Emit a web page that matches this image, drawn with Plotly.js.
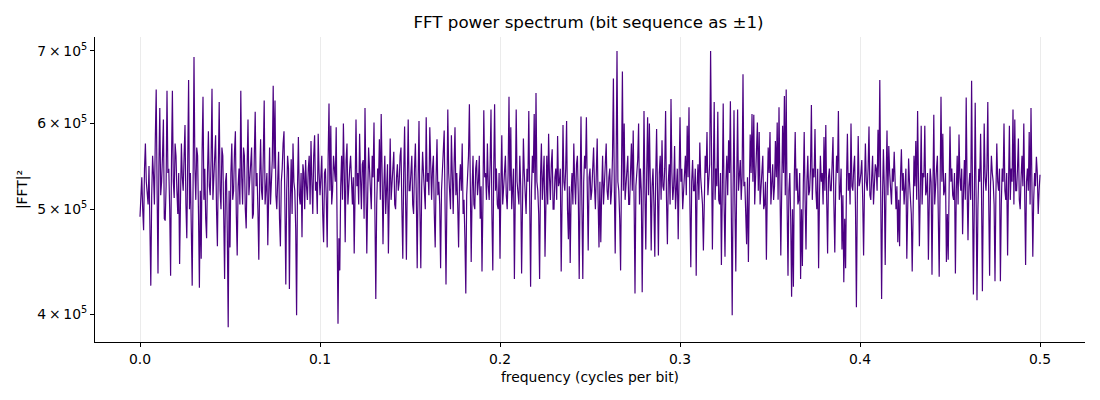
<!DOCTYPE html>
<html>
<head>
<title>FFT power spectrum</title>
<script src="https://cdn.plot.ly/plotly-3.0.1.min.js"></script>
<style>
body{margin:0;background:#fff;}
#plot{width:1100px;height:400px;}
</style>
</head>
<body>
<div id="plot"></div>
<script>
// |FFT|^2, one value per 0.0005 cycles/bit (0 .. 0.5)
var power=[
492e3,512e3,535e3,500e3,478e3,545e3,575e3,530e3,520e3,505e3,548e3,470e3,425e3,515e3,560e3,538e3,505e3,580e3,645e3,520e3,
436e3,548e3,620e3,515e3,530e3,560e3,605e3,490e3,488e3,525e3,643e3,540e3,545e3,500e3,434e3,555e3,643e3,530e3,512e3,575e3,
560e3,520e3,495e3,540e3,445e3,510e3,575e3,535e3,520e3,560e3,598e3,505e3,470e3,550e3,658e3,500e3,540e3,480e3,425e3,530e3,
691e3,545e3,510e3,570e3,560e3,495e3,423e3,520e3,450e3,565e3,635e3,510e3,545e3,490e3,470e3,540e3,590e3,525e3,515e3,555e3,
646e3,510e3,530e3,555e3,585e3,500e3,462e3,545e3,628e3,520e3,500e3,570e3,560e3,495e3,431e3,530e3,540e3,475e3,389e3,520e3,
461e3,540e3,575e3,510e3,520e3,565e3,590e3,495e3,453e3,525e3,545e3,505e3,643e3,535e3,505e3,570e3,560e3,500e3,480e3,545e3,
605e3,515e3,530e3,550e3,570e3,490e3,495e3,560e3,615e3,525e3,540e3,500e3,449e3,535e3,580e3,520e3,510e3,560e3,630e3,505e3,
520e3,540e3,463e3,525e3,570e3,505e3,535e3,555e3,650e3,545e3,630e3,515e3,500e3,540e3,565e3,490e3,462e3,530e3,545e3,575e3,
590e3,505e3,426e3,520e3,560e3,545e3,422e3,510e3,556e3,495e3,575e3,530e3,520e3,480e3,399e3,525e3,583e3,515e3,505e3,540e3,
471e3,550e3,540e3,500e3,555e3,525e3,510e3,545e3,560e3,505e3,578e3,530e3,495e3,560e3,585e3,520e3,530e3,495e3,587e3,540e3,
515e3,535e3,560e3,495e3,466e3,540e3,545e3,510e3,461e3,555e3,626e3,520e3,597e3,505e3,520e3,560e3,545e3,530e3,595e3,500e3,
392e3,470e3,439e3,525e3,560e3,510e3,600e3,540e3,466e3,555e3,575e3,505e3,530e3,545e3,560e3,515e3,505e3,535e3,455e3,520e3,
605e3,525e3,540e3,505e3,587e3,535e3,500e3,550e3,555e3,490e3,620e3,530e3,455e3,515e3,570e3,545e3,520e3,500e3,560e3,535e3,
601e3,490e3,413e3,505e3,545e3,530e3,580e3,510e3,612e3,540e3,464e3,525e3,560e3,495e3,520e3,550e3,455e3,530e3,581e3,510e3,
525e3,545e3,565e3,505e3,500e3,535e3,550e3,520e3,530e3,560e3,570e3,500e3,450e3,540e3,596e3,515e3,449e3,530e3,605e3,520e3,
520e3,540e3,560e3,505e3,495e3,545e3,575e3,515e3,441e3,530e3,603e3,500e3,441e3,525e3,565e3,540e3,520e3,500e3,608e3,530e3,
540e3,515e3,595e3,530e3,510e3,545e3,560e3,495e3,461e3,535e3,580e3,515e3,530e3,505e3,441e3,520e3,545e3,555e3,591e3,500e3,
426e3,510e3,618e3,540e3,520e3,500e3,585e3,530e3,495e3,550e3,595e3,515e3,540e3,505e3,461e3,530e3,550e3,520e3,575e3,495e3,
510e3,470e3,418e3,515e3,545e3,560e3,625e3,530e3,447e3,520e3,560e3,505e3,500e3,545e3,555e3,515e3,530e3,560e3,490e3,525e3,
438e3,505e3,617e3,535e3,540e3,510e3,575e3,525e3,510e3,550e3,618e3,495e3,439e3,540e3,625e3,520e3,545e3,505e3,500e3,540e3,
450e3,525e3,585e3,505e3,520e3,545e3,560e3,515e3,500e3,540e3,635e3,520e3,595e3,500e3,530e3,545e3,431e3,510e3,618e3,530e3,
520e3,505e3,560e3,525e3,436e3,515e3,581e3,540e3,510e3,495e3,545e3,530e3,616e3,505e3,424e3,520e3,560e3,540e3,612e3,510e3,
640e3,530e3,520e3,495e3,431e3,535e3,575e3,510e3,545e3,560e3,452e3,520e3,560e3,505e3,587e3,535e3,510e3,550e3,568e3,500e3,
500e3,535e3,545e3,510e3,584e3,525e3,530e3,545e3,438e3,510e3,598e3,530e3,520e3,545e3,603e3,500e3,469e3,525e3,446e3,515e3,
540e3,505e3,575e3,530e3,505e3,550e3,560e3,515e3,431e3,520e3,609e3,505e3,431e3,530e3,560e3,545e3,608e3,520e3,458e3,535e3,
545e3,510e3,520e3,545e3,570e3,525e3,500e3,540e3,581e3,510e3,461e3,530e3,466e3,520e3,560e3,505e3,530e3,550e3,575e3,520e3,
510e3,535e3,545e3,505e3,520e3,560e3,660e3,525e3,455e3,545e3,700e3,530e3,520e3,490e3,439e3,540e3,670e3,520e3,600e3,510e3,
530e3,550e3,560e3,505e3,505e3,540e3,575e3,520e3,591e3,510e3,418e3,525e3,540e3,555e3,600e3,505e3,545e3,520e3,419e3,530e3,
616e3,520e3,459e3,540e3,608e3,515e3,600e3,530e3,458e3,525e3,545e3,505e3,452e3,535e3,593e3,520e3,453e3,540e3,560e3,510e3,
579e3,525e3,520e3,545e3,616e3,510e3,464e3,530e3,550e3,505e3,632e3,540e3,510e3,525e3,572e3,500e3,530e3,545e3,469e3,520e3,
608e3,530e3,545e3,500e3,520e3,545e3,560e3,515e3,597e3,535e3,621e3,505e3,442e3,530e3,555e3,520e3,520e3,545e3,434e3,525e3,
550e3,510e3,576e3,535e3,520e3,505e3,458e3,525e3,560e3,540e3,589e3,515e3,530e3,550e3,700e3,520e3,459e3,535e3,628e3,510e3,
545e3,525e3,615e3,510e3,505e3,540e3,444e3,520e3,626e3,505e3,452e3,530e3,560e3,515e3,579e3,540e3,629e3,500e3,399e3,520e3,
617e3,505e3,438e3,530e3,618e3,520e3,540e3,555e3,510e3,535e3,666e3,525e3,530e3,500e3,464e3,535e3,447e3,520e3,586e3,540e3,
612e3,530e3,611e3,505e3,545e3,560e3,601e3,520e3,589e3,505e3,520e3,545e3,560e3,500e3,505e3,530e3,449e3,520e3,570e3,540e3,
589e3,505e3,530e3,550e3,510e3,525e3,578e3,535e3,601e3,510e3,621e3,530e3,453e3,520e3,597e3,540e3,636e3,515e3,645e3,505e3,
434e3,520e3,540e3,490e3,415e3,500e3,424e3,535e3,589e3,520e3,545e3,505e3,510e3,540e3,431e3,500e3,443e3,525e3,589e3,510e3,
459e3,530e3,560e3,515e3,520e3,545e3,624e3,510e3,545e3,535e3,593e3,520e3,500e3,545e3,441e3,515e3,560e3,530e3,540e3,505e3,
583e3,520e3,598e3,510e3,455e3,535e3,545e3,520e3,520e3,550e3,583e3,505e3,456e3,525e3,560e3,540e3,616e3,510e3,520e3,545e3,
459e3,515e3,428e3,490e3,441e3,530e3,587e3,520e3,540e3,505e3,600e3,525e3,520e3,545e3,560e3,500e3,406e3,510e3,584e3,525e3,
530e3,540e3,555e3,510e3,453e3,525e3,575e3,530e3,520e3,545e3,596e3,515e3,510e3,535e3,560e3,505e3,530e3,550e3,545e3,520e3,
592e3,535e3,658e3,500e3,413e3,510e3,568e3,525e3,444e3,530e3,591e3,515e3,572e3,540e3,520e3,505e3,545e3,530e3,565e3,515e3,
500e3,525e3,466e3,510e3,462e3,535e3,568e3,520e3,540e3,505e3,520e3,545e3,450e3,515e3,557e3,530e3,510e3,495e3,438e3,520e3,
560e3,525e3,578e3,510e3,616e3,530e3,462e3,520e3,597e3,505e3,540e3,535e3,597e3,515e3,520e3,540e3,449e3,510e3,545e3,530e3,
435e3,520e3,611e3,505e3,530e3,545e3,560e3,510e3,433e3,525e3,635e3,530e3,587e3,515e3,520e3,540e3,447e3,495e3,449e3,520e3,
596e3,530e3,545e3,515e3,510e3,540e3,436e3,520e3,560e3,505e3,586e3,535e3,520e3,545e3,474e3,520e3,555e3,510e3,634e3,525e3,
468e3,525e3,540e3,510e3,657e3,520e3,417e3,505e3,627e3,515e3,412e3,500e3,545e3,530e3,587e3,520e3,420e3,510e3,600e3,535e3,
520e3,545e3,628e3,510e3,434e3,525e3,560e3,540e3,530e3,505e3,429e3,515e3,575e3,530e3,520e3,545e3,429e3,505e3,545e3,530e3,
600e3,520e3,510e3,540e3,453e3,525e3,597e3,510e3,545e3,530e3,618e3,505e3,605e3,520e3,520e3,545e3,581e3,510e3,500e3,535e3,
560e3,525e3,600e3,515e3,444e3,530e3,545e3,520e3,589e3,505e3,620e3,530e3,452e3,510e3,540e3,525e3,559e3,540e3,495e3,520e3,
538e3
];
var yTicks=[4e5,5e5,6e5,7e5];
var yTickText=["4\u2009×\u200910<sup>5</sup>","5\u2009×\u200910<sup>5</sup>","6\u2009×\u200910<sup>5</sup>","7\u2009×\u200910<sup>5</sup>"];
var xTicks=[0,0.1,0.2,0.3,0.4,0.5];

// frequency bins, evenly spaced 0..0.5
var freq=[];
for(var i=0;i<power.length;i++)freq.push(i*0.5/(power.length-1));

var trace={
  x:freq,y:power,type:'scatter',mode:'lines',
  line:{color:'#4b0082',width:1.2},
  hoverinfo:'x+y'
};

var layout={
  width:1100,height:400,
  margin:{l:95,r:15,t:37,b:58},
  paper_bgcolor:'#fff',plot_bgcolor:'#fff',
  font:{family:'DejaVu Sans, sans-serif',size:13.9,color:'#000'},
  showlegend:false,
  title:{text:'FFT power spectrum (bit sequence as ±1)',font:{size:16.7,color:'#000'},x:0.535,xanchor:'center',y:0.945,yanchor:'middle'},
  xaxis:{
    title:{text:'frequency (cycles per bit)',font:{size:13.9},standoff:6},
    range:[-0.025,0.525],
    tickvals:xTicks,tickformat:'.1f',
    ticks:'outside',ticklen:4,tickcolor:'#000',
    showline:true,linecolor:'#000',linewidth:1,mirror:false,
    showgrid:true,gridcolor:'#ebebeb',gridwidth:1,
    zeroline:false
  },
  yaxis:{
    title:{text:'|FFT|²',font:{size:13.9},standoff:6},
    type:'log',
    range:[Math.log10(377000),Math.log10(721000)],
    tickvals:yTicks,ticktext:yTickText,
    ticks:'outside',ticklen:4,tickcolor:'#000',
    showline:true,linecolor:'#000',linewidth:1,mirror:false,
    showgrid:false,zeroline:false
  }
};

Plotly.newPlot('plot',[trace],layout,{displayModeBar:false,staticPlot:true});
</script>
</body>
</html>
